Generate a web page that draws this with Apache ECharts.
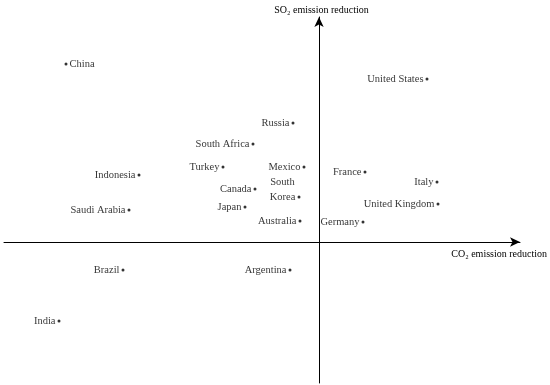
<!DOCTYPE html>
<html>
<head>
<meta charset="utf-8">
<script src="https://cdn.jsdelivr.net/npm/echarts@6/dist/echarts.min.js"></script>
<style>
html,body{margin:0;padding:0;background:#fff;}
#chart{width:550px;height:385px;}
</style>
</head>
<body>
<div id="chart"></div>
<script>
// Country positions: x = CO2 emission reduction, y = SO2 emission reduction (relative units)
const countries = ["China","United States","Russia","South Africa","Turkey","Mexico","Indonesia","France","Italy","Canada","South Korea","Japan","Saudi Arabia","United Kingdom","Australia","Germany","Brazil","Argentina","India"];
const co2Values = [-25.3, 10.8, -2.6, -6.6, -9.6, -1.5, -18.0, 4.6, 11.8, -6.4, -2.0, -7.4, -19.0, 11.9, -1.9, 4.4, -19.6, -2.9, -26.0];
const so2Values = [17.8, 16.3, 11.9, 9.8, 7.5, 7.5, 6.7, 7.0, 6.0, 5.3, 4.5, 3.5, 3.2, 3.8, 2.1, 2.0, -2.8, -2.8, -7.9];
const xAxisName = "CO\u2082 emission reduction";
const yAxisName = "SO\u2082 emission reduction";

const font = "'Liberation Serif', 'Times New Roman', serif";

const data = countries.map((name, i) => {
  const item = { name: name, value: [co2Values[i], so2Values[i]] };
  if (name === "China") {
    item.label = { position: "right" };
  } else if (name === "South Korea") {
    item.label = { formatter: "South\nKorea", align: "center", offset: [-13, -7], position: "left", lineHeight: 15 };
  }
  return item;
});

const chart = echarts.init(document.getElementById("chart"), null, { renderer: "canvas" });
chart.setOption({
  animation: false,
  backgroundColor: "#fff",
  grid: { left: 4, right: 30, top: 17, bottom: 2, containLabel: false },
  xAxis: {
    type: "value",
    min: -31.5, max: 20.1,
    name: xAxisName,
    nameLocation: "end",
    nameGap: 27,
    nameTextStyle: { fontFamily: font, fontSize: 10, color: "#000", align: "right", verticalAlign: "top", padding: [7, 0, 0, 0] },
    axisLine: { onZero: true, lineStyle: { color: "#000", width: 1 }, symbol: ["none", "arrow"], symbolSize: [7, 10] },
    axisTick: { show: false },
    axisLabel: { show: false },
    splitLine: { show: false }
  },
  yAxis: {
    type: "value",
    min: -14.1, max: 22.5,
    name: yAxisName,
    nameLocation: "end",
    nameGap: 2,
    nameTextStyle: { fontFamily: font, fontSize: 10, color: "#000", padding: [0, 0, 0, 5] },
    axisLine: { onZero: true, lineStyle: { color: "#000", width: 1 }, symbol: ["none", "arrow"], symbolSize: [7, 10] },
    axisTick: { show: false },
    axisLabel: { show: false },
    splitLine: { show: false }
  },
  series: [{
    type: "scatter",
    symbol: "circle",
    symbolSize: 3,
    itemStyle: { color: "#000" },
    label: {
      show: true,
      position: "left",
      distance: 2,
      formatter: "{b}",
      fontFamily: font,
      fontSize: 10.5,
      color: "#000"
    },
    data: data
  }]
});
</script>
</body>
</html>
